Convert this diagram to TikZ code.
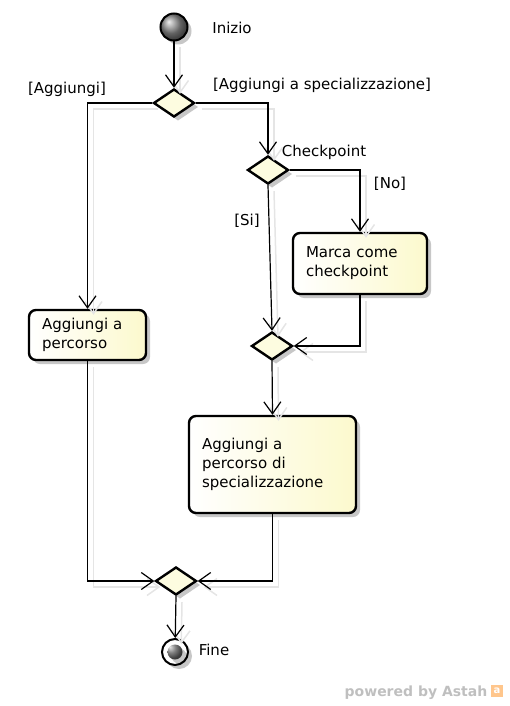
\documentclass[tikz,border=0pt]{standalone}
\usepackage{fontspec}
\setmainfont{DejaVu Sans}
\usetikzlibrary{shapes.geometric,arrows.meta,shadows}
\definecolor{actfill}{RGB}{252,249,205}
\definecolor{decfill}{RGB}{253,252,224}
\begin{document}
\begin{tikzpicture}[x=1pt,y=-1pt,line width=1.2pt,
    font=\fontsize{15}{19}\selectfont,
    shade/.style={drop shadow={shadow xshift=4pt,shadow yshift=-4pt,opacity=0.22,fill=black}},
    action/.style={rectangle,rounded corners=7pt,draw,line width=2.4pt,left color=white,right color=actfill,
      inner xsep=13pt,inner ysep=0pt,align=left,shade},
    decision/.style={diamond,draw,line width=2.4pt,fill=decfill,minimum width=41pt,minimum height=28pt,inner sep=0pt,shade},
    initial/.style={circle,draw,line width=2pt,minimum size=27pt,inner sep=0pt,ball color=black!45,shade},
    final/.style={circle,draw,line width=2pt,minimum size=26pt,inner sep=0pt,fill=white,shade,
      path picture={\shade[ball color=black!65] (path picture bounding box.center) circle (7.5pt);}},
    flow/.style={-{Straight Barb[length=12pt,width=17pt]},
      preaction={draw=black!10,line width=1.5pt,transform canvas={shift={(6pt,-6pt)}}}},
    lbl/.style={inner sep=0pt}]
  \useasboundingbox (0,0) rectangle (510,706);
  % nodes
  \node[initial] (start) at (174,27) {};
  \node[lbl] (lstart) at (232,28) {Inizio};
  \node[decision] (d1) at (174,103) {};
  \node[decision] (d2) at (268,170) {};
  \node[lbl] (lcheck) at (324,152) {Checkpoint};
  \node[action,text width=108pt,minimum height=61pt] (mark) at (360,263.5) {Marca come\\checkpoint};
  \node[decision] (d3) at (272,346) {};
  \node[action,text width=91pt,minimum height=50pt] (add) at (87.5,335) {Aggiungi a\\percorso};
  \node[action,text width=141pt,minimum height=97pt] (addspec) at (272.5,464.5) {Aggiungi a\\percorso di\\specializzazione};
  \node[decision] (d4) at (176,581) {};
  \node[final] (end) at (175,652) {};
  \node[lbl] (lend) at (214,650) {Fine};
  % guards
  \node[lbl] (gadd) at (67,89) {[Aggiungi]};
  \node[lbl] (gspec) at (322,85) {[Aggiungi a specializzazione]};
  \node[lbl] (gno) at (390,184) {[No]};
  \node[lbl] (gsi) at (247,221) {[Si]};
  % flows
  \draw[flow] (start) -- (d1.north);
  \draw[flow] (d1.west) -| (add.north);
  \draw[flow] (d1.east) -| (d2.north);
  \draw[flow] (d2.east) -| (mark.north);
  \draw[flow] (d2.south) -- (d3.north);
  \draw[flow] (mark.south) |- (d3.east);
  \draw[flow] (d3.south) -- (addspec.north);
  \draw[flow] (add.south) |- (d4.west);
  \draw[flow] (addspec.south) |- (d4.east);
  \draw[flow] (d4.south) -- (end);
  % logo
  \node[lbl,text=black!25,font=\fontsize{14}{14}\bfseries\selectfont] (pow) at (416,693) {powered by Astah};
  \node[fill=orange!45,minimum size=12pt,inner sep=0pt,text=white,font=\fontsize{10}{10}\bfseries\selectfont] (logo) at (497,691) {a};
\end{tikzpicture}
\end{document}
